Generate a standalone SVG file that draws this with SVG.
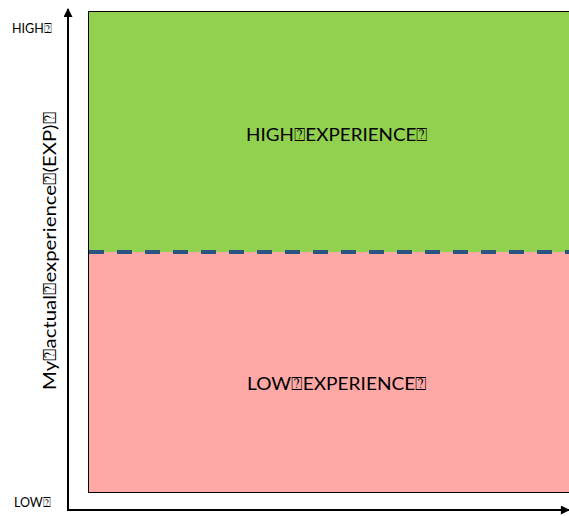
<svg xmlns="http://www.w3.org/2000/svg" width="569" height="516" viewBox="0 0 569 516">
  <style>
    .lbl { font-family: Lato, "Liberation Sans", "DejaVu Sans", sans-serif; fill: #000; }
    .axis { stroke: #000; stroke-width: 2; fill: none; }
  </style>
  <defs>
    <marker id="arrow" viewBox="0 0 10 10" refX="9" refY="5" markerWidth="5" markerHeight="4.5" orient="auto" markerUnits="strokeWidth">
      <path d="M0,0 L10,5 L0,10 Z" fill="#000"/>
    </marker>
  </defs>

  <!-- experience bands -->
  <g id="high-band">
    <rect x="88.5" y="11.5" width="490" height="240.5" fill="#92d050"/>
    <text class="lbl" x="246" y="141" font-size="18" textLength="182" lengthAdjust="spacingAndGlyphs">HIGH⍰EXPERIENCE⍰</text>
  </g>
  <g id="low-band">
    <rect x="88.5" y="252" width="490" height="240.5" fill="#ffa9a7"/>
    <text class="lbl" x="247" y="390" font-size="18" textLength="180" lengthAdjust="spacingAndGlyphs">LOW⍰EXPERIENCE⍰</text>
  </g>
  <rect x="88.5" y="11.5" width="490" height="481" fill="none" stroke="#000" stroke-width="1"/>

  <!-- connectors: axes and threshold -->
  <g id="connectors">
    <line x1="89" y1="252" x2="569" y2="252" stroke="#2b5580" stroke-width="4" stroke-dasharray="15 13" stroke-dashoffset="0"/>
    <line class="axis" x1="68" y1="510" x2="68" y2="9" marker-end="url(#arrow)"/>
    <line class="axis" x1="67" y1="510" x2="569" y2="510" marker-end="url(#arrow)"/>
  </g>

  <!-- axis labels -->
  <g id="axis-labels">
    <text class="lbl" x="12" y="33" font-size="12.5">HIGH⍰</text>
    <text class="lbl" x="14" y="507" font-size="12.5">LOW⍰</text>
    <text class="lbl" transform="translate(56,390) rotate(-90)" font-size="18" textLength="278" lengthAdjust="spacingAndGlyphs">My⍰actual⍰experience⍰(EXP)⍰</text>
  </g>
</svg>
